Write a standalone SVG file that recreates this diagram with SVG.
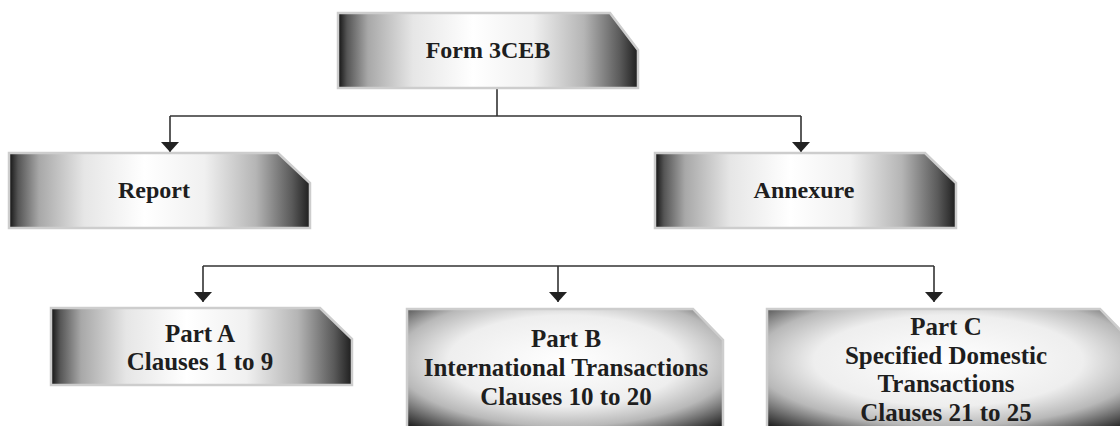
<svg xmlns="http://www.w3.org/2000/svg" width="1120" height="426" viewBox="0 0 1120 426">
  <defs>
    <!-- side-shaded fill used by the plain boxes -->
    <linearGradient id="shadeH" x1="0" y1="0" x2="1" y2="0">
      <stop offset="0" stop-color="#111"/>
      <stop offset="0.03" stop-color="#555"/>
      <stop offset="0.1" stop-color="#a8a8a8"/>
      <stop offset="0.25" stop-color="#e6e6e6"/>
      <stop offset="0.45" stop-color="#fff"/>
      <stop offset="0.65" stop-color="#f0f0f0"/>
      <stop offset="0.82" stop-color="#b5b5b5"/>
      <stop offset="0.94" stop-color="#5a5a5a"/>
      <stop offset="1" stop-color="#1e1e1e"/>
    </linearGradient>
    <!-- glow fill used by the tall boxes -->
    <radialGradient id="shadeR" cx="0.5" cy="0.42" r="0.74">
      <stop offset="0" stop-color="#fff"/>
      <stop offset="0.5" stop-color="#eeeeee"/>
      <stop offset="0.72" stop-color="#b8b8b8"/>
      <stop offset="0.88" stop-color="#5a5a5a"/>
      <stop offset="1" stop-color="#151515"/>
    </radialGradient>
    <!-- solid arrowhead pointing along the line -->
    <marker id="arrow" markerUnits="userSpaceOnUse" markerWidth="12" markerHeight="20" refX="10" refY="9" orient="auto" viewBox="0 0 12 18">
      <path d="M0,0 L10,9 L0,18 Z" fill="#222"/>
    </marker>
    <style>
      .box { stroke: #cdcdcd; stroke-width: 2.5; }
      .lin { fill: url(#shadeH); }
      .rad { fill: url(#shadeR); }
      .lbl { font-weight: bold; font-size: 24px; fill: #1e1e1e; text-anchor: middle; }
      .sub { font-size: 25px; }
      .conn { fill: none; stroke: #333; stroke-width: 1.6; }
    </style>
  </defs>

  <g id="connectors">
    <path class="conn" d="M497,88 V116"/>
    <path class="conn" d="M170,116 H801"/>
    <path class="conn" d="M170,116 V152" marker-end="url(#arrow)"/>
    <path class="conn" d="M801,116 V152" marker-end="url(#arrow)"/>
    <path class="conn" d="M203,266 H934"/>
    <path class="conn" d="M203,266 V302" marker-end="url(#arrow)"/>
    <path class="conn" d="M558,266 V302" marker-end="url(#arrow)"/>
    <path class="conn" d="M934,266 V302" marker-end="url(#arrow)"/>
  </g>

  <g font-family="'Liberation Serif', 'Times New Roman', serif">
    <g id="form3ceb">
      <polygon class="box lin" points="338,13 610,13 638,50 638,88 338,88"/>
      <text class="lbl" x="488" y="58">Form 3CEB</text>
    </g>

    <g id="report">
      <polygon class="box lin" points="9,153 278,153 310,183 310,228 9,228"/>
      <text class="lbl" x="154" y="198">Report</text>
    </g>

    <g id="annexure">
      <polygon class="box lin" points="655,153 925,153 956,183 956,228 655,228"/>
      <text class="lbl" x="804" y="198">Annexure</text>
    </g>

    <g id="partA">
      <polygon class="box lin" points="51,308 320,308 352,339 352,385 51,385"/>
      <text class="lbl sub" x="200" y="342">Part A</text>
      <text class="lbl sub" x="200" y="370">Clauses 1 to 9</text>
    </g>

    <g id="partB">
      <polygon class="box rad" points="407,309 693,309 723,340 723,432 407,432"/>
      <text class="lbl sub" x="566" y="347">Part B</text>
      <text class="lbl sub" x="566" y="376">International Transactions</text>
      <text class="lbl sub" x="566" y="405">Clauses 10 to 20</text>
    </g>

    <g id="partC">
      <polygon class="box rad" points="767,309 1100,309 1130,340 1130,432 767,432"/>
      <text class="lbl sub" x="946" y="335">Part C</text>
      <text class="lbl sub" x="946" y="364">Specified Domestic</text>
      <text class="lbl sub" x="946" y="392">Transactions</text>
      <text class="lbl sub" x="946" y="421">Clauses 21 to 25</text>
    </g>
  </g>
</svg>
